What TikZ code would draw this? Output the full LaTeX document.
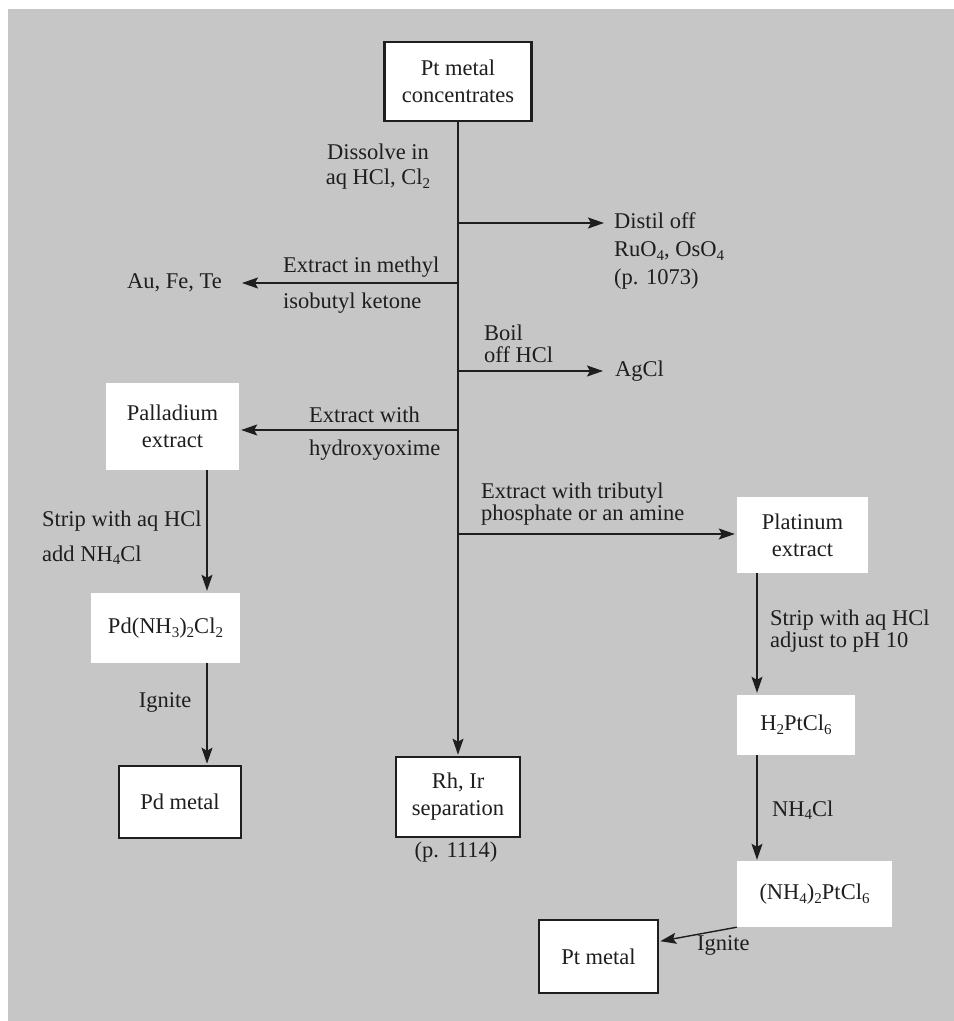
\documentclass[tikz,border=0pt]{standalone}
\usepackage{fontspec}
\setmainfont{Liberation Serif}
\usetikzlibrary{arrows.meta,calc}
\definecolor{paper}{RGB}{198,198,198}
\definecolor{ink}{RGB}{30,30,30}
\newcommand{\chemsub}[1]{\raisebox{-0.35ex}{\fontsize{15}{15}\selectfont #1}}

\begin{document}
\begin{tikzpicture}[x=1pt,y=-1pt,
  every node/.style={font=\fontsize{22.5}{27}\selectfont, text=ink},
  metalbox/.style={draw=ink, line width=2.6pt, fill=white, align=center, inner sep=0pt},
  stagebox/.style={fill=white, align=center, inner sep=0pt},
  flow/.style={draw=ink, line width=1.4pt, -{Stealth[length=16pt,width=11pt,inset=3pt]}},
  lbl/.style={inner sep=0pt, align=left},
  tight/.style={font=\fontsize{22.5}{22}\selectfont},
]
% page and grey paper
\useasboundingbox (0,0) rectangle (954,1021);
\fill[white] (0,0) rectangle (954,1021);
\fill[paper] (8,9) rectangle (954,1021);

% boxes
\node[metalbox, minimum width=147pt, minimum height=79pt] (conc) at (458,81.5) {Pt metal\\concentrates};
\node[stagebox, minimum width=133pt, minimum height=87pt] (pdext) at (172.5,426.5) {Palladium\\extract};
\node[stagebox, minimum width=149pt, minimum height=70pt] (pdam) at (165.5,628) {Pd(NH\chemsub{3})\chemsub{2}Cl\chemsub{2}};
\node[metalbox, minimum width=122pt, minimum height=72pt] (pdmet) at (180,802) {Pd metal};
\node[metalbox, minimum width=124pt, minimum height=80pt] (rhir) at (458,797) {Rh, Ir\\separation};
\node[stagebox, minimum width=131pt, minimum height=76pt] (ptext) at (802.5,535) {Platinum\\extract};
\node[stagebox, minimum width=118pt, minimum height=60pt] (hpt) at (796,725) {H\chemsub{2}PtCl\chemsub{6}};
\node[stagebox, minimum width=155pt, minimum height=66pt] (npt) at (814.5,894) {(NH\chemsub{4})\chemsub{2}PtCl\chemsub{6}};
\node[metalbox, minimum width=119pt, minimum height=73pt] (ptmet) at (598.5,956.5) {Pt metal};

% products and notes
\node[lbl, anchor=west, font=\fontsize{22.5}{28}\selectfont] (distil) at (614,251) {Distil off\\RuO\chemsub{4}, OsO\chemsub{4}\\(p. 1073)};
\node[lbl, anchor=east] (aufete) at (222,283) {Au, Fe, Te};
\node[lbl, anchor=west] (agcl) at (615,371) {AgCl};
\node[lbl] (pref) at (456,852) {(p. 1114)};

% junctions on the main stream
\coordinate (j1) at (458,223);
\coordinate (j2) at (458,283);
\coordinate (j3) at (458,371);
\coordinate (j4) at (458,430);
\coordinate (j5) at (458,534);
\coordinate (pdcol) at (207,0);
\coordinate (ptcol) at (757,0);

% main stream and branches
\draw[flow, shorten >=1pt] (conc.south) -- (rhir.north);
\draw[flow, shorten >=10pt] (j1) -- (distil.west |- j1);
\draw[flow, shorten >=20pt] (j2) -- (aufete.east |- j2);
\draw[flow, shorten >=12pt] (j3) -- (agcl.west |- j3);
\draw[flow, shorten >=2pt] (j4) -- (pdext.east |- j4);
\draw[flow, shorten >=2pt] (j5) -- (ptext.west |- j5);

% palladium route
\draw[flow, shorten >=2pt] (pdext.south -| pdcol) -- (pdam.north -| pdcol);
\draw[flow, shorten >=1pt] (pdam.south -| pdcol) -- (pdmet.north -| pdcol);

% platinum route
\draw[flow, shorten >=2pt] (ptext.south -| ptcol) -- (hpt.north -| ptcol);
\draw[flow, shorten >=1pt] (hpt.south -| ptcol) -- (npt.north -| ptcol);
\draw[flow, shorten >=1pt] (npt.south west) -- ($(ptmet.north east)!0.3!(ptmet.south east)$);

% process labels
\node[lbl, align=center, font=\fontsize{22.5}{25}\selectfont] (dissolve) at (378,167) {Dissolve in\\aq HCl, Cl\chemsub{2}};
\node[lbl, anchor=west] (mibk1) at (283,267) {Extract in methyl};
\node[lbl, anchor=west] (mibk2) at (283,303) {isobutyl ketone};
\node[lbl, anchor=west, tight] (boil) at (484,344) {Boil\\off HCl};
\node[lbl, anchor=west] (oxime1) at (309,415) {Extract with};
\node[lbl, anchor=west] (oxime2) at (309,450) {hydroxyoxime};
\node[lbl, anchor=west, tight] (tbp) at (481,504) {Extract with tributyl\\phosphate or an amine};
\node[lbl, anchor=west] (pdstrip1) at (42,521) {Strip with aq HCl};
\node[lbl, anchor=west] (pdstrip2) at (42,555) {add NH\chemsub{4}Cl};
\node[lbl] (pdignite) at (165,702) {Ignite};
\node[lbl, anchor=west, tight] (ptstrip) at (770,631) {Strip with aq HCl\\adjust to pH 10};
\node[lbl, anchor=west] (nh4cl) at (772,810) {NH\chemsub{4}Cl};
\node[lbl, anchor=west] (ptignite) at (697,945) {Ignite};
\end{tikzpicture}
\end{document}
